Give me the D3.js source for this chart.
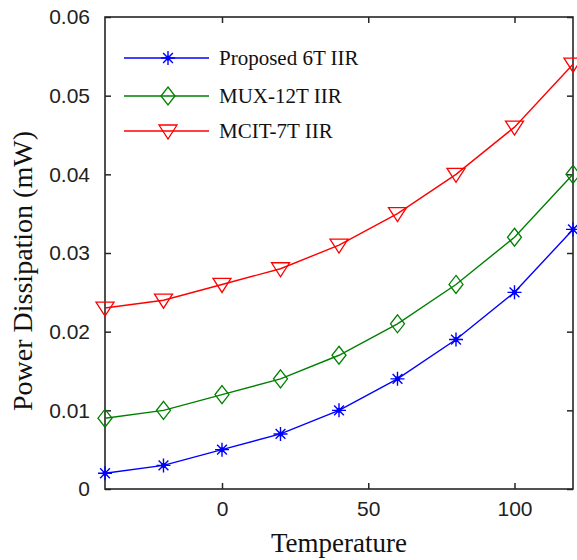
<!DOCTYPE html>
<html>
<head>
<meta charset="utf-8">
<script src="https://cdn.jsdelivr.net/npm/d3@7"></script>
<style>
  body { margin: 0; background: #fff; }
  svg { display: block; }
</style>
</head>
<body>
<div id="chart"></div>
<script>
var temps = [-40, -20, 0, 20, 40, 60, 80, 100, 120];
var proposed6T = [0.002, 0.003, 0.005, 0.007, 0.010, 0.014, 0.019, 0.025, 0.033];
var mux12T = [0.009, 0.010, 0.012, 0.014, 0.017, 0.021, 0.026, 0.032, 0.040];
var mcit7T = [0.023, 0.024, 0.026, 0.028, 0.031, 0.035, 0.040, 0.046, 0.054];
var seriesNames = ["Proposed 6T IIR", "MUX-12T IIR", "MCIT-7T IIR"];
var xTicks = [0, 50, 100];
var yTicks = [0, 0.01, 0.02, 0.03, 0.04, 0.05, 0.06];

(function () {
    var W = 577, H = 560;
    var margin = { top: 17, left: 105, right: 4, bottom: 71 },
        width = W - margin.left - margin.right,
        height = H - margin.top - margin.bottom;

    var svg = d3.select("#chart").append("svg")
        .attr("width", W)
        .attr("height", H);

    var g = svg.append("g")
        .attr("transform", "translate(" + margin.left + "," + margin.top + ")");

    var x = d3.scaleLinear().domain([-40, 120]).range([0, width]);
    var y = d3.scaleLinear().domain([0, 0.06]).range([height, 0]);

    var series = [
        { name: seriesNames[0], values: proposed6T, color: "#0000ff", marker: "star" },
        { name: seriesNames[1], values: mux12T, color: "#008000", marker: "diamond" },
        { name: seriesNames[2], values: mcit7T, color: "#ff0000", marker: "tri" }
    ];

    var tickFont = "'Liberation Sans', Arial, sans-serif";
    var serif = "'Liberation Serif', 'Times New Roman', serif";
    var axisColor = "#262626";

    // bottom / top axes, ticks pointing inward
    var xb = g.append("g").attr("transform", "translate(0," + height + ")")
        .call(d3.axisBottom(x).tickValues(xTicks).tickSizeInner(-6).tickSizeOuter(0).tickPadding(12).tickFormat(d3.format("d")));
    var xt = g.append("g")
        .call(d3.axisTop(x).tickValues(xTicks).tickSizeInner(-6).tickSizeOuter(0).tickFormat(""));
    var yl = g.append("g")
        .call(d3.axisLeft(y).tickValues(yTicks).tickSizeInner(-6).tickSizeOuter(0).tickPadding(15)
            .tickFormat(function (d) { return d === 0 ? "0" : d3.format(".2f")(d); }));
    var yr = g.append("g").attr("transform", "translate(" + width + ",0)")
        .call(d3.axisRight(y).tickValues(yTicks).tickSizeInner(-6).tickSizeOuter(0).tickFormat(""));

    [xb, xt, yl, yr].forEach(function (a) {
        a.select(".domain").remove();
        a.selectAll("line").attr("stroke", axisColor).attr("stroke-width", 1.5);
        a.selectAll("text").attr("fill", "#222").style("font-family", tickFont).style("font-size", "21px");
    });

    g.append("rect")
        .attr("width", width).attr("height", height)
        .attr("fill", "none").attr("stroke", axisColor).attr("stroke-width", 1.6);

    function drawMarker(sel, type, color) {
        if (type === "star") {
            var r = 7;
            var d = "M0," + (-r) + "V" + r + "M" + (-r) + ",0H" + r +
                "M" + (-r * 0.7) + "," + (-r * 0.7) + "L" + (r * 0.7) + "," + (r * 0.7) +
                "M" + (-r * 0.7) + "," + (r * 0.7) + "L" + (r * 0.7) + "," + (-r * 0.7);
            sel.append("path").attr("d", d).attr("stroke", color).attr("stroke-width", 1.4).attr("fill", "none");
            sel.append("circle").attr("r", 2.5).attr("fill", color);
        } else if (type === "diamond") {
            sel.append("path").attr("d", "M0,-9L7,0L0,9L-7,0Z")
                .attr("stroke", color).attr("stroke-width", 1.3).attr("fill", "none");
        } else {
            sel.append("path").attr("d", "M-9,-6H9L0,8Z")
                .attr("stroke", color).attr("stroke-width", 1.3).attr("fill", "none");
        }
    }

    var line = d3.line()
        .x(function (d, i) { return x(temps[i]); })
        .y(function (d) { return y(d); });

    series.forEach(function (s) {
        g.append("path")
            .datum(s.values)
            .attr("d", line)
            .attr("fill", "none")
            .attr("stroke", s.color)
            .attr("stroke-width", 1.4);

        g.selectAll(null)
            .data(s.values)
            .enter().append("g")
            .attr("transform", function (d, i) { return "translate(" + x(temps[i]) + "," + y(d) + ")"; })
            .each(function () { drawMarker(d3.select(this), s.marker, s.color); });
    });

    // legend
    var legend = svg.append("g");
    series.forEach(function (s, i) {
        var ly = [58, 96, 131][i];
        var row = legend.append("g").attr("transform", "translate(0," + ly + ")");
        row.append("line").attr("x1", 124).attr("x2", 209)
            .attr("stroke", s.color).attr("stroke-width", 1.4);
        drawMarker(row.append("g").attr("transform", "translate(168,0)"), s.marker, s.color);
        row.append("text")
            .attr("x", 219).attr("y", 7)
            .style("font-family", serif).style("font-size", "21px")
            .attr("fill", "#111")
            .text(s.name);
    });

    // axis titles
    svg.append("text")
        .attr("x", margin.left + width / 2).attr("y", 552)
        .attr("text-anchor", "middle")
        .style("font-family", serif).style("font-size", "27px")
        .attr("fill", "#111")
        .text("Temperature");

    svg.append("text")
        .attr("transform", "translate(32," + (margin.top + height / 2 + 18) + ") rotate(-90)")
        .attr("text-anchor", "middle")
        .style("font-family", serif).style("font-size", "28px")
        .attr("fill", "#111")
        .text("Power Dissipation (mW)");
})();
</script>
</body>
</html>
